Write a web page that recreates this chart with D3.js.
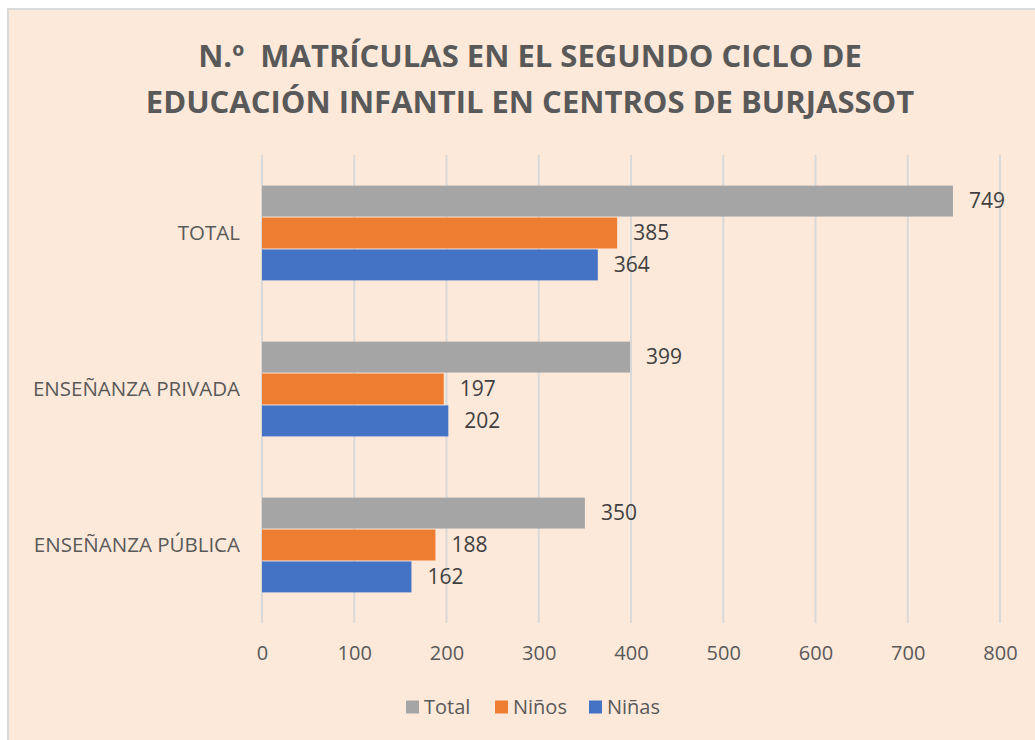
<!DOCTYPE html>
<html>
<head>
<meta charset="utf-8">
<script src="https://cdn.jsdelivr.net/npm/d3@7"></script>
<style>
  body { margin: 0; background: #fff; }
  text { font-family: "Open Sans", "Noto Sans", sans-serif; }
</style>
</head>
<body>
<div id="chart"></div>
<script>
// data
var categories = ["TOTAL", "ENSEÑANZA PRIVADA", "ENSEÑANZA PÚBLICA"];
var seriesNames = ["Total", "Niños", "Niñas"];
var totalValues = [749, 399, 350];
var ninosValues = [385, 197, 188];
var ninasValues = [364, 202, 162];
var xTicks = [0, 100, 200, 300, 400, 500, 600, 700, 800];

var colors = ["#A5A5A5", "#ED7D31", "#4472C4"];
var seriesValues = [totalValues, ninosValues, ninasValues];

var W = 1035, H = 740;
var margin = { top: 155, right: 35, bottom: 117, left: 262 },
    width = W - margin.left - margin.right,
    height = H - margin.top - margin.bottom;

var root = d3.select("#chart").append("svg")
    .attr("width", W).attr("height", H);

// chart background with light border
root.append("rect")
    .attr("x", 8).attr("y", 9)
    .attr("width", W).attr("height", H)
    .attr("fill", "#FDE9DA")
    .attr("stroke", "#D9D9D9").attr("stroke-width", 2);

// title
var title = root.append("text")
    .attr("text-anchor", "middle")
    .attr("fill", "#595959")
    .style("white-space", "pre")
    .style("font-weight", "bold")
    .style("font-size", "31px");
title.append("tspan").attr("x", 530).attr("y", 67).text("N.º  MATRÍCULAS EN EL SEGUNDO CICLO DE");
title.append("tspan").attr("x", 530).attr("y", 113).text("EDUCACIÓN INFANTIL EN CENTROS DE BURJASSOT");

var svg = root.append("g")
    .attr("transform", "translate(" + margin.left + "," + margin.top + ")");

var x = d3.scaleLinear().domain([0, 800]).range([0, 738]);

var y = d3.scaleBand().domain(categories).range([0, height]).paddingInner(0.38).paddingOuter(0.19);
var ySub = d3.scaleBand().domain(seriesNames).range([0, y.bandwidth()]).padding(0.03);

// gridlines
svg.selectAll(".grid")
    .data(xTicks)
    .enter().append("line")
    .attr("x1", function (d) { return x(d); })
    .attr("x2", function (d) { return x(d); })
    .attr("y1", 0).attr("y2", height)
    .attr("stroke", "#D9D9D9").attr("stroke-width", 2);

// x axis labels
var xAxis = svg.append("g")
    .attr("transform", "translate(0," + height + ")")
    .call(d3.axisBottom(x).tickValues(xTicks).tickSize(0).tickPadding(23));
xAxis.select(".domain").remove();
xAxis.selectAll("text")
    .style("font-family", "'Open Sans', sans-serif")
    .style("font-size", "20px")
    .attr("fill", "#595959");

// y axis labels
var yAxis = svg.append("g")
    .call(d3.axisLeft(y).tickSize(0).tickPadding(22));
yAxis.select(".domain").remove();
yAxis.selectAll("text")
    .style("font-family", "'Open Sans', sans-serif")
    .style("font-size", "20.5px")
    .attr("fill", "#595959");

// bars
var rows = categories.map(function (c, i) {
    return seriesNames.map(function (s, j) {
        return { cat: c, series: s, value: seriesValues[j][i], color: colors[j] };
    });
});

var groups = svg.selectAll(".cat")
    .data(rows)
    .enter().append("g")
    .attr("transform", function (d) { return "translate(0," + y(d[0].cat) + ")"; });

groups.selectAll("rect")
    .data(function (d) { return d; })
    .enter().append("rect")
    .attr("x", x(0))
    .attr("y", function (d) { return ySub(d.series); })
    .attr("width", function (d) { return x(d.value) - x(0); })
    .attr("height", ySub.bandwidth())
    .attr("fill", function (d) { return d.color; });

groups.selectAll(".lbl")
    .data(function (d) { return d; })
    .enter().append("text")
    .attr("x", function (d) { return x(d.value) + 16; })
    .attr("y", function (d) { return ySub(d.series) + ySub.bandwidth() / 2; })
    .attr("dy", "0.35em")
    .style("font-size", "21px")
    .attr("fill", "#404040")
    .text(function (d) { return d.value; });

// legend
var legend = root.append("g").attr("transform", "translate(406,707)");
var legX = [0, 89, 183];
seriesNames.forEach(function (s, i) {
    legend.append("rect")
        .attr("x", legX[i]).attr("y", -6.5)
        .attr("width", 13).attr("height", 13)
        .attr("fill", colors[i]);
    legend.append("text")
        .attr("x", legX[i] + 18).attr("y", 0)
        .attr("dy", "0.35em")
        .style("font-size", "20px")
        .attr("fill", "#595959")
        .text(s);
});
</script>
</body>
</html>
